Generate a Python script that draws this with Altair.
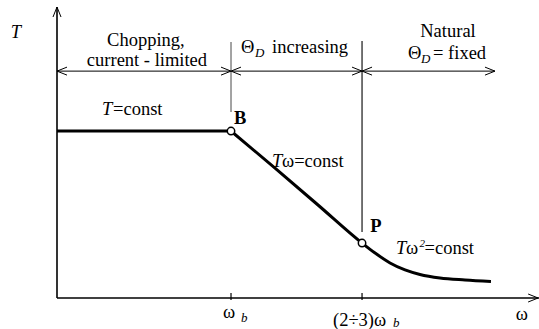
import altair as alt
import pandas as pd

# Torque-speed envelope of a switched reluctance drive
# speed in units of base speed, torque in units of the constant-torque level
flat_w = [0.0, 1.0]
flat_T = [1.0, 1.0]

curve_w = [1.00, 1.253, 1.500, 1.753, 1.828, 1.914, 2.000, 2.086, 2.201, 2.345, 2.494]
curve_T = [1.00, 0.778, 0.557, 0.329, 0.269, 0.210, 0.168, 0.141, 0.120, 0.108, 0.099]

# corner points B (base speed) and P
corner_w = [1.0, 1.753]
corner_T = [1.0, 0.329]

W_MAX = 2.77      # end of speed axis
T_MAX = 1.743     # end of torque axis
BAND_T = 1.359    # level of the region arrows
BAND_END = 2.517

FONT = "Liberation Serif"
BLACK = "#000000"
FS = 18.5

x_scale = alt.Scale(domain=[0, W_MAX], nice=False, zero=False)
y_scale = alt.Scale(domain=[0, T_MAX], nice=False, zero=False)


def X(field="w"):
    return alt.X(f"{field}:Q", scale=x_scale, axis=None)


def Y(field="T"):
    return alt.Y(f"{field}:Q", scale=y_scale, axis=None)


def segments(rows, color=BLACK, width=1.0):
    df = pd.DataFrame(rows, columns=["w", "T", "w2", "T2"])
    return alt.Chart(df).mark_rule(color=color, strokeWidth=width).encode(
        x=X(), y=Y(), x2="w2:Q", y2="T2:Q"
    )


def arrowheads(points, path):
    df = pd.DataFrame(points, columns=["w", "T"])
    return alt.Chart(df).mark_point(
        shape=path, size=400, filled=False, color=BLACK, strokeWidth=1, opacity=1
    ).encode(x=X(), y=Y())


def labels(rows, size=FS, style="normal", weight="normal", align="left"):
    df = pd.DataFrame(rows, columns=["text", "w", "T"])
    return alt.Chart(df).mark_text(
        font=FONT, fontSize=size, fontStyle=style, fontWeight=weight,
        align=align, baseline="alphabetic", color=BLACK
    ).encode(x=X(), y=Y(), text="text:N")


# axes drawn as plain lines with open arrowheads
axes = segments([[0, 0, 0, T_MAX], [0, 0, W_MAX, 0]], width=1.6)
ticks = segments([[corner_w[0], -0.012, corner_w[0], 0.03],
                  [corner_w[1], -0.012, corner_w[1], 0.03]], width=1.2)

# region boundaries and the band of arrows
band = segments([[0, BAND_T, BAND_END, BAND_T]], width=1.0)
div_b = segments([[corner_w[0], 1.114, corner_w[0], 1.533]], color="#8c8c8c", width=1.6)
div_p = segments([[corner_w[1], 0.395, corner_w[1], 1.539]], width=1.1)

UP = "M-0.4,1L0,0L0.4,1"
LEFT = "M1,-0.4L0,0L1,0.4"
RIGHT = "M-1,-0.4L0,0L-1,0.4"

heads = alt.layer(
    arrowheads([[0, T_MAX]], UP),
    arrowheads([[W_MAX - 0.005, 0]], RIGHT),
    arrowheads([[0, BAND_T], [corner_w[0], BAND_T], [corner_w[1], BAND_T]], LEFT),
    arrowheads([[corner_w[0], BAND_T], [corner_w[1], BAND_T], [BAND_END, BAND_T]], RIGHT),
)

flat = alt.Chart(pd.DataFrame({"w": flat_w, "T": flat_T})).mark_line(
    color=BLACK, strokeWidth=3
).encode(x=X(), y=Y())

curve = alt.Chart(pd.DataFrame({"w": curve_w, "T": curve_T})).mark_line(
    color=BLACK, strokeWidth=3, interpolate="monotone"
).encode(x=X(), y=Y(), order="w:Q")

corners = alt.Chart(pd.DataFrame({"w": corner_w, "T": corner_T})).mark_point(
    shape="circle", size=55, filled=True, fill="white", stroke=BLACK,
    strokeWidth=1.5, opacity=1
).encode(x=X(), y=Y())

text_center = labels([
    ["Chopping,", 0.511, 1.509],
    ["current - limited", 0.517, 1.389],
    ["Natural", 2.247, 1.563],
    ["ω", 0.989, -0.120],
    ["ω", 2.672, -0.132],
], align="center")

text_left = labels([
    ["Θ", 1.057, 1.467],
    ["increasing", 1.236, 1.467],
    ["Θ", 2.017, 1.431],
    ["= fixed", 2.161, 1.431],
    ["=const", 0.322, 1.096],
    ["ω=const", 1.293, 0.784],
    ["ω", 2.006, 0.263],
    ["=const", 2.112, 0.263],
    ["(2÷3)ω", 1.586, -0.168],
])

text_italic = labels([
    ["T", 0.259, 1.096],
    ["T", 1.236, 0.784],
    ["T", 1.948, 0.263],
], style="italic")

text_axis_T = labels([["T", -0.236, 1.557]], style="italic", align="center")

text_small = labels([
    ["D", 1.138, 1.443],
    ["D", 2.092, 1.407],
    ["b", 1.057, -0.144],
    ["b", 1.931, -0.174],
], size=13, style="italic")

text_sup = labels([["2", 2.083, 0.305]], size=11, style="italic")

text_bold = labels([
    ["B", 1.052, 1.042],
    ["P", 1.833, 0.395],
], weight="bold", align="center")

chart = alt.layer(
    axes, ticks, band, div_b, div_p, heads, flat, curve, corners,
    text_center, text_left, text_italic, text_axis_T, text_small, text_sup, text_bold,
).properties(
    width=482, height=291,
    padding={"left": 57, "top": 7, "right": 0, "bottom": 31},
    autosize=alt.AutoSizeParams(type="none"),
    background="white",
).configure_view(stroke=None)

chart.save("out.html", embed_options={"renderer": "svg", "actions": False})
